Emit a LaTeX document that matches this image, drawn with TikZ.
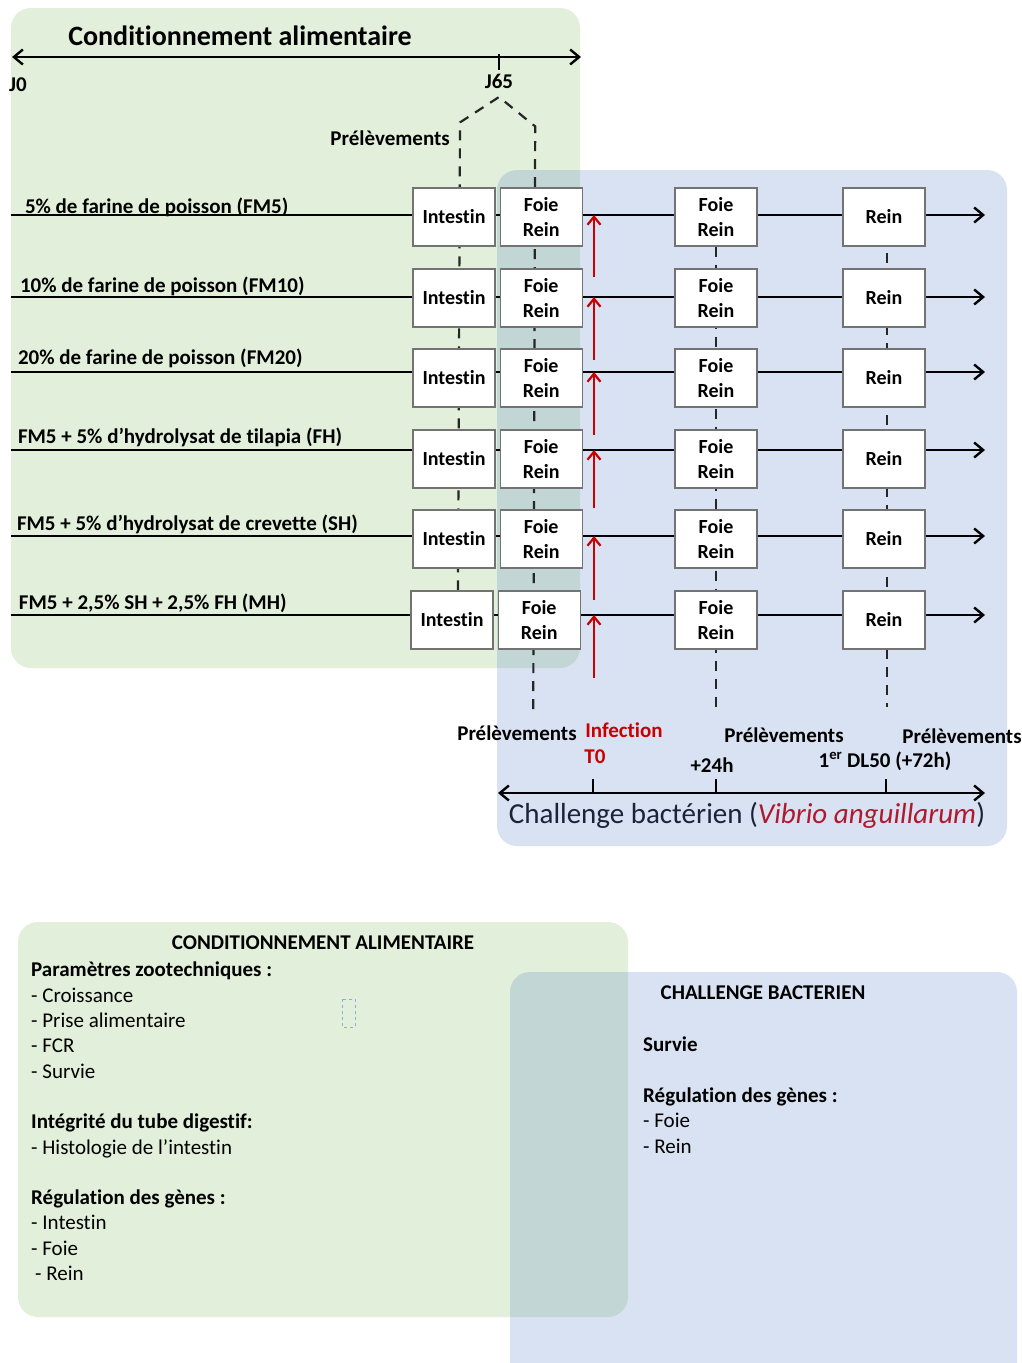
\documentclass[tikz,border=0pt]{standalone}
\usepackage{fontspec}
\setmainfont{Carlito}[Ligatures=NoCommon]
\usepackage{xcolor}
\usepackage{tikz}
\usetikzlibrary{arrows.meta, positioning, calc, backgrounds}
\definecolor{cagreen}{RGB}{226,239,218}
\definecolor{cbblue}{RGB}{68,114,196}
\definecolor{infred}{RGB}{200,0,0}
\definecolor{vibred}{RGB}{175,25,45}
\definecolor{cbnavy}{RGB}{28,34,56}

\begin{document}
\begin{tikzpicture}[x=1pt, y=-1pt,
  organ/.style={rectangle, draw=black!55, line width=1.2pt, fill=white, minimum width=82pt, minimum height=58pt, inner sep=0pt, align=center, font=\fontsize{20}{25}\selectfont\bfseries},
  rowlab/.style={inner sep=0pt, outer sep=0pt, anchor=south west, font=\fontsize{21}{25}\selectfont\bfseries},
  lab/.style={inner sep=0pt, font=\fontsize{21}{25}\selectfont\bfseries},
  listtxt/.style={inner sep=0pt, anchor=north west, align=left, font=\fontsize{21}{25.3}\selectfont},
  rowline/.style={line width=2.7pt, -{Straight Barb[length=9pt, width=15pt, line width=2.4pt]}},
  timeline/.style={line width=2.7pt, {Straight Barb[length=9pt, width=15pt, line width=2.4pt]}-{Straight Barb[length=9pt, width=15pt, line width=2.4pt]}},
  infarr/.style={line width=2.6pt, infred, -{Straight Barb[length=8pt, width=13pt, line width=2.2pt]}},
  samp/.style={line width=2.2pt, black!85, dash pattern=on 10pt off 8pt},
  zone/.style={rounded corners=20pt}
]
\useasboundingbox (0,0) rectangle (1022,1363);

% boxes of the samplings
\node[organ] (int1) at (454,217) {Intestin};
\node[organ, right=4pt of int1] (fa1) {Foie\\Rein};
\node[organ] (fb1) at (716,217) {Foie\\Rein};
\node[organ] (re1) at (884,217) {Rein};
\node[organ] (int2) at (454,298) {Intestin};
\node[organ, right=4pt of int2] (fa2) {Foie\\Rein};
\node[organ] (fb2) at (716,298) {Foie\\Rein};
\node[organ] (re2) at (884,298) {Rein};
\node[organ] (int3) at (454,378) {Intestin};
\node[organ, right=4pt of int3] (fa3) {Foie\\Rein};
\node[organ] (fb3) at (716,378) {Foie\\Rein};
\node[organ] (re3) at (884,378) {Rein};
\node[organ] (int4) at (454,459) {Intestin};
\node[organ, right=4pt of int4] (fa4) {Foie\\Rein};
\node[organ] (fb4) at (716,459) {Foie\\Rein};
\node[organ] (re4) at (884,459) {Rein};
\node[organ] (int5) at (454,539) {Intestin};
\node[organ, right=4pt of int5] (fa5) {Foie\\Rein};
\node[organ] (fb5) at (716,539) {Foie\\Rein};
\node[organ] (re5) at (884,539) {Rein};
\node[organ] (int6) at (452,620) {Intestin};
\node[organ, right=4pt of int6] (fa6) {Foie\\Rein};
\node[organ] (fb6) at (716,620) {Foie\\Rein};
\node[organ] (re6) at (884,620) {Rein};

\coordinate (r1) at (11,215); \coordinate (e1) at (985,215);
\coordinate (r2) at (11,297); \coordinate (e2) at (985,297);
\coordinate (r3) at (11,372); \coordinate (e3) at (985,372);
\coordinate (r4) at (11,450); \coordinate (e4) at (985,450);
\coordinate (r5) at (11,536); \coordinate (e5) at (985,536);
\coordinate (r6) at (11,615); \coordinate (e6) at (985,615);

\node[rowlab, xshift=14pt, yshift=-2pt] (diet1) at (r1) {5\% de farine de poisson (FM5)};
\node[rowlab, xshift=9pt, yshift=1pt] (diet2) at (r2) {10\% de farine de poisson (FM10)};
\node[rowlab, xshift=7pt, yshift=4pt] (diet3) at (r3) {20\% de farine de poisson (FM20)};
\node[rowlab, xshift=7pt, yshift=3pt] (diet4) at (r4) {FM5 + 5\% d’hydrolysat de tilapia (FH)};
\node[rowlab, xshift=6pt, yshift=2pt] (diet5) at (r5) {FM5 + 5\% d’hydrolysat de crevette (SH)};
\node[rowlab, xshift=8pt, yshift=2pt] (diet6) at (r6) {FM5 + 2,5\% SH + 2,5\% FH (MH)};

% top time line
\node[font=\fontsize{28}{30}\selectfont\bfseries] (ctitle) at (240,36) {Conditionnement alimentaire};
\coordinate (j0) at (12,57);
\coordinate (jend) at (581,57);
\coordinate (j65) at (499,54);
\coordinate (peak) at (499,97);
\node[lab, anchor=west] (j0lab) at (9,85) {J0};
\node[lab] (j65lab) at (499,81) {J65};
\node[lab, anchor=east] (prel0) at (450,138) {Prélèvements};

% bottom time line
\coordinate (c0) at (498,793);
\coordinate (cend) at (985,793);
\coordinate (tk0) at (593,779);
\coordinate (tk24) at (716,779);
\coordinate (tk72) at (886,779);
\node[lab] (prelA) at (517,733) {Prélèvements};
\node[lab, text=infred] (infec) at (624,730) {Infection};
\node[lab, text=infred] (tzero) at (595,757) {T0};
\node[lab] (prelB) at (784,735) {Prélèvements};
\node[lab] (h24) at (712,765) {+24h};
\node[lab] (prelC) at (962,736) {Prélèvements};
\node[lab] (dl50) at (885,761) {1\textsuperscript{er} DL50 (+72h)};
\node[font=\fontsize{29}{32}\selectfont, text=cbnavy] (chal) at (747,815) {Challenge bactérien (\textcolor{vibred}{\itshape Vibrio anguillarum})};

% lower panels
\node[font=\fontsize{21}{25}\selectfont\bfseries] (ctitle2) at (323,943) {CONDITIONNEMENT ALIMENTAIRE};
\node[listtxt] (condlist) at (31,962) {\textbf{Paramètres zootechniques :}\\- Croissance\\- Prise alimentaire\\- FCR\\- Survie\\[25.3pt]\textbf{Intégrité du tube digestif:}\\- Histologie de l’intestin\\[25.3pt]\textbf{Régulation des gènes :}\\- Intestin\\- Foie\\\hspace*{4pt}- Rein};
\node[font=\fontsize{21}{25}\selectfont\bfseries] (btitle2) at (763,993) {CHALLENGE BACTERIEN};
\node[listtxt] (challist) at (643,1037) {\textbf{Survie}\\[25.3pt]\textbf{Régulation des gènes :}\\- Foie\\- Rein};
\draw[dashed, cyan!50!blue!45, line width=0.6pt] (342,999) rectangle (355,1027);

\begin{scope}[on background layer]
\fill[white] (0,0) rectangle (1022,1363);
\fill[cagreen, zone] (11,8) rectangle (580,668);
\fill[cbblue, fill opacity=0.2, zone] (497,170) rectangle (1007,846);
\fill[cagreen, zone] (18,922) rectangle (628,1317);
\fill[cbblue, fill opacity=0.2, zone] (510,972) rectangle (1017,1400);

\draw[timeline] (j0) -- (jend);
\draw[line width=2.7pt] (j65) -- ++(0,16);
\draw[timeline] (c0) -- (cend);
\draw[line width=2.7pt] (tk0) -- (tk0 |- c0);
\draw[line width=2.7pt] (tk24) -- (tk24 |- c0);
\draw[line width=2.7pt] (tk72) -- (tk72 |- c0);

\draw[rowline] (r1) -- (e1);
\draw[rowline] (r2) -- (e2);
\draw[rowline] (r3) -- (e3);
\draw[rowline] (r4) -- (e4);
\draw[rowline] (r5) -- (e5);
\draw[rowline] (r6) -- (e6);

\draw[samp] ($(int6.north)+(6,0)$) -- ($(int1.north)+(6,-65)$) -- (peak) -- ($(fa1.north)+(-6,-61)$) -- ($(fa6.south)+(-6,66)$);
\draw[samp] (fb1) -- ($(fb6.south)+(0,57)$);
\draw[samp] ($(re1)+(3,0)$) -- ($(re6.south)+(3,57)$);

\coordinate (t1) at (594,277);
\coordinate (t2) at (594,360);
\coordinate (t3) at (594,435);
\coordinate (t4) at (594,508);
\coordinate (t5) at (594,600);
\coordinate (t6) at (594,678);
\draw[infarr] (t1) -- (t1 |- r1);
\draw[infarr] (t2) -- (t2 |- r2);
\draw[infarr] (t3) -- (t3 |- r3);
\draw[infarr] (t4) -- (t4 |- r4);
\draw[infarr] (t5) -- (t5 |- r5);
\draw[infarr] (t6) -- (t6 |- r6);
\end{scope}
\end{tikzpicture}
\end{document}
